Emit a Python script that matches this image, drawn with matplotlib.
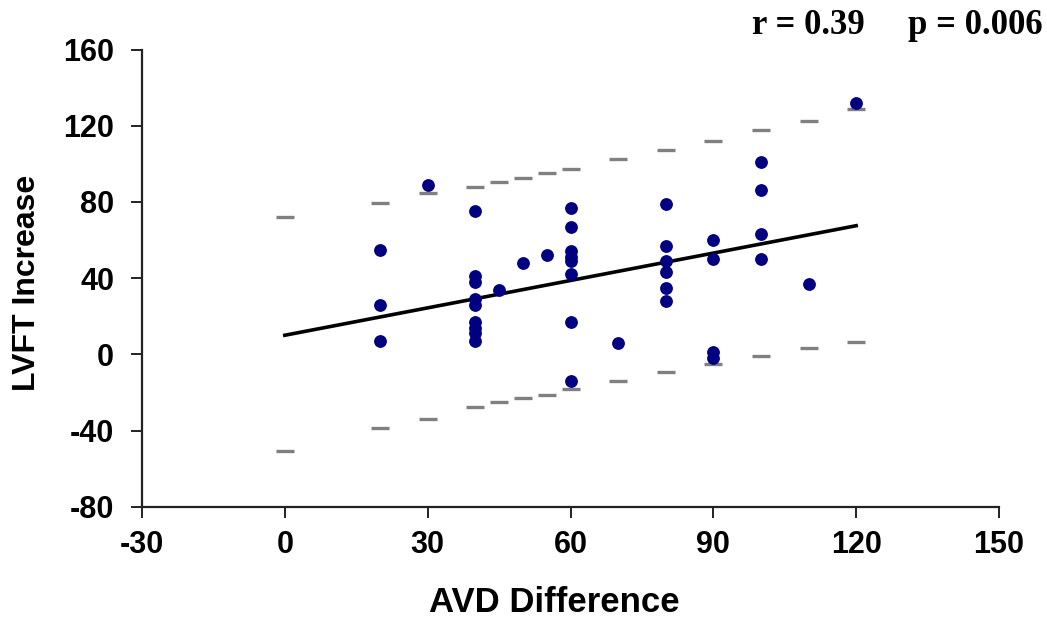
import matplotlib
matplotlib.use("Agg")
import matplotlib.pyplot as plt
import numpy as np

plt.rcParams['axes.unicode_minus'] = False

# Data
avd = [20, 20, 20, 30,
       40, 40, 40, 40, 40, 40, 40, 40, 40,
       45, 50, 55,
       60, 60, 60, 60, 60, 60, 60, 60,
       70,
       80, 80, 80, 80, 80, 80,
       90, 90, 90, 90,
       100, 100, 100, 100,
       110, 120]
lvft = [55, 26, 7, 89,
        75, 41, 38, 29, 26, 17, 14, 11, 7,
        34, 48, 52,
        77, 67, 54, 51, 49, 42, 17, -14,
        6,
        79, 57, 49, 43, 35, 28,
        60, 50, 1, -2,
        101, 86, 63, 50,
        37, 132]

fit_x = [0, 120]
fit_y = [10, 67.5]

band_x = [0, 20, 30, 40, 45, 50, 55, 60, 70, 80, 90, 100, 110, 120]
band_upper = [72, 79.5, 84.5, 88, 90.3, 92.7, 95, 97.3, 102.4, 107, 111.8, 117.7, 122.6, 128.6]
band_lower = [-51, -38.7, -34, -27.7, -25, -23.1, -21.4, -18.4, -14, -9.1, -5.2, -0.7, 3.1, 6.3]

x_ticks = [-30, 0, 30, 60, 90, 120, 150]
y_ticks = [-80, -40, 0, 40, 80, 120, 160]

fig = plt.figure(figsize=(10.47, 6.23), dpi=100)
ax = fig.add_axes([142/1047, 1 - 506.7/623, (999 - 142)/1047, (506.7 - 49.5)/623])

ax.plot(band_x, band_upper, linestyle='none', marker='_', markersize=12.5,
        markeredgewidth=2.4, color='#808080', zorder=2)
ax.plot(band_x, band_lower, linestyle='none', marker='_', markersize=12.5,
        markeredgewidth=2.4, color='#808080', zorder=2)
ax.plot(fit_x, fit_y, color='black', linewidth=2.6, zorder=3)
ax.plot(avd, lvft, linestyle='none', marker='o', markersize=8.2,
        color='#000080', markeredgecolor='#000080', zorder=4)

ax.set_xlim(-30, 150)
ax.set_ylim(-80, 160)
ax.set_xticks(x_ticks)
ax.set_yticks(y_ticks)

font = 'Liberation Sans'
for s in ['top', 'right']:
    ax.spines[s].set_visible(False)
for s in ['left', 'bottom']:
    ax.spines[s].set_linewidth(1.6)
    ax.spines[s].set_color('#222222')
ax.tick_params(axis='both', direction='out', length=8, width=1.4, color='#222222')
ax.tick_params(axis='y', pad=12)
ax.tick_params(axis='x', pad=9)
for lbl in ax.get_xticklabels() + ax.get_yticklabels():
    lbl.set_fontfamily(font)
    lbl.set_fontweight('bold')
    lbl.set_fontsize(22)

fig.text(554/1047, 1 - 603/623, 'AVD Difference', ha='center', va='center',
         fontfamily=font, fontweight='bold', fontsize=25)
fig.text(27/1047, 1 - 283/623, 'LVFT Increase', ha='center', va='center',
         rotation=90, fontfamily=font, fontweight='bold', fontsize=23)

fig.text(808/1047, 1 - 25/623, 'r = 0.39', ha='center', va='center',
         fontfamily='Liberation Serif', fontweight='bold', fontsize=25)
fig.text(975/1047, 1 - 25/623, 'p = 0.006', ha='center', va='center',
         fontfamily='Liberation Serif', fontweight='bold', fontsize=25)

fig.savefig('out.png', dpi=100)
